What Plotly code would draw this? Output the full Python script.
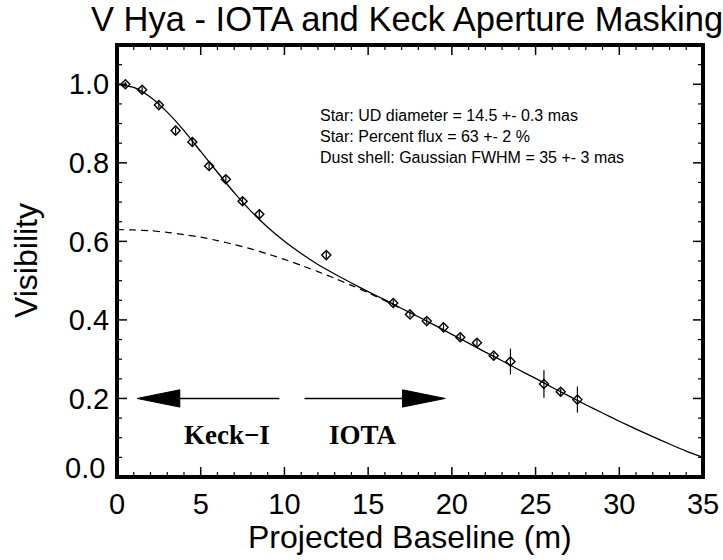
import plotly.graph_objects as go

# Measured visibilities (Keck aperture masking + IOTA)
baseline = [0.5, 1.5, 2.5, 3.5, 4.5, 5.5, 6.5, 7.5, 8.5, 12.5,
            16.5, 17.5, 18.5, 19.5, 20.5, 21.5, 22.5, 23.5, 25.5, 26.5, 27.5]
visibility = [1.000, 0.986, 0.947, 0.882, 0.853, 0.792, 0.758, 0.702, 0.669, 0.565,
              0.443, 0.414, 0.397, 0.381, 0.356, 0.342, 0.309, 0.294, 0.237, 0.217, 0.197]
vis_err = [0.006, 0.008, 0.008, 0.008, 0.010, 0.010, 0.010, 0.010, 0.012, 0.008,
           0.008, 0.008, 0.008, 0.008, 0.008, 0.008, 0.008, 0.033, 0.035, 0.008, 0.033]

# Best-fit model: star (uniform disk) + Gaussian dust shell
model_b = list(range(0, 36))
model_vis = [1.000, 0.992, 0.967, 0.929, 0.882, 0.829, 0.776, 0.724, 0.677, 0.636,
             0.600, 0.569, 0.541, 0.517, 0.494, 0.472, 0.451, 0.429, 0.408, 0.386,
             0.363, 0.341, 0.318, 0.296, 0.273, 0.251, 0.228, 0.206, 0.184, 0.163,
             0.142, 0.122, 0.103, 0.084, 0.066, 0.050]

# Stellar component alone
star_b = list(range(0, 18))
star_vis = [0.630, 0.629, 0.627, 0.623, 0.617, 0.611, 0.602, 0.592, 0.581, 0.568,
            0.554, 0.539, 0.523, 0.506, 0.488, 0.469, 0.449, 0.428]

# Baseline coverage arrows (tail, tip) at visibility 0.2
arrow_level = 0.2
keck_span = [9.7, 1.2]
iota_span = [11.2, 19.6]

# Axis ranges and ticks
x_range = [0, 35]
y_range = [0, 1.1]
x_major = [0, 5, 10, 15, 20, 25, 30, 35]
x_minor = [v for v in range(0, 36) if v % 5 != 0]
y_major = [0.0, 0.2, 0.4, 0.6, 0.8, 1.0]
y_minor = [round(0.05 * i, 2) for i in range(0, 23) if i % 4 != 0]
ytick_vals = [0.2, 0.4, 0.6, 0.8, 1.0]
ytick_text = ["0.2", "0.4", "0.6", "0.8", "1.0"]

SANS = "Liberation Sans, Arial, Helvetica, sans-serif"
SERIF = "Liberation Serif, Times New Roman, serif"

W, H = 723, 560
M = dict(l=117, r=20, t=45, b=83)
px_x = (x_range[1] - x_range[0]) / (W - M["l"] - M["r"])   # data units per pixel
px_y = (y_range[1] - y_range[0]) / (H - M["t"] - M["b"])

fig = go.Figure()

# Plot frame, inset by one pixel so the full stroke stays inside the plot area
x0, x1 = x_range
y0, y1 = y_range
fx0, fx1 = x0 + px_x, x1 - px_x
fy0, fy1 = y0 + px_y, y1 - px_y
fig.add_trace(go.Scatter(
    x=[fx0, fx1, fx1, fx0, fx0], y=[fy0, fy0, fy1, fy1, fy0], mode="lines",
    line=dict(color="black", width=2), hoverinfo="skip"))

# Inward ticks on all four sides
for xs, ys, length, width in ((x_major, y_major, 10, 1.5), (x_minor, y_minor, 5, 1.2)):
    tx, ty = [], []
    for v in xs:
        h = length * px_y
        tx += [v, v, None, v, v, None]
        ty += [y0, y0 + h, None, y1, y1 - h, None]
    for v in ys:
        w = length * px_x
        tx += [x0, x0 + w, None, x1, x1 - w, None]
        ty += [v, v, None, v, v, None]
    fig.add_trace(go.Scatter(x=tx, y=ty, mode="lines",
                             line=dict(color="black", width=width), hoverinfo="skip"))

fig.add_trace(go.Scatter(
    x=star_b, y=star_vis, mode="lines",
    line=dict(color="black", width=1.2, dash="7px,5px", shape="spline", smoothing=0.6),
    hoverinfo="skip"))

fig.add_trace(go.Scatter(
    x=model_b, y=model_vis, mode="lines",
    line=dict(color="black", width=1.3, shape="spline", smoothing=0.6),
    hoverinfo="skip"))

fig.add_trace(go.Scatter(
    x=baseline, y=visibility, mode="markers",
    marker=dict(symbol="diamond-open", size=7, color="black", line=dict(width=1.4, color="black")),
    error_y=dict(type="data", array=vis_err, width=0, thickness=1.2, color="black")))

# Arrows: shaft line plus long filled triangular head
head_len = 2.55
head_half = 0.022
for tail, tip in (keck_span, iota_span):
    s = 1 if tip > tail else -1
    base = tip - s * head_len
    fig.add_trace(go.Scatter(
        x=[tail, base], y=[arrow_level, arrow_level], mode="lines",
        line=dict(color="black", width=1.5), hoverinfo="skip"))
    fig.add_trace(go.Scatter(
        x=[base, tip, base, base],
        y=[arrow_level - head_half, arrow_level, arrow_level + head_half, arrow_level - head_half],
        mode="lines", fill="toself", fillcolor="black",
        line=dict(color="black", width=1), hoverinfo="skip"))

fig.add_annotation(x=6.57, y=0.108, xref="x", yref="y", text="<b>Keck−I</b>",
                   showarrow=False, font=dict(family=SERIF, size=27, color="black"))
fig.add_annotation(x=14.72, y=0.108, xref="x", yref="y", text="<b>IOTA</b>",
                   showarrow=False, font=dict(family=SERIF, size=27, color="black"))

fig.add_annotation(
    x=12.0, y=0.866, xref="x", yref="y", xanchor="left", yanchor="middle", align="left",
    text="Star: UD diameter = 14.5 +- 0.3 mas<br>Star: Percent flux = 63 +- 2 %<br>"
         "Dust shell: Gaussian FWHM = 35 +- 3 mas",
    showarrow=False, font=dict(family=SANS, size=16, color="black"))

# Lowest y tick label sits slightly above its tick
fig.add_annotation(x=0, y=0.0, xref="paper", yref="y", xanchor="right", yanchor="middle",
                   xshift=-10, yshift=9, text="0.0", showarrow=False,
                   font=dict(family=SANS, size=29, color="black"))

# Title and axis titles
fig.add_annotation(x=0.495, y=1, xref="paper", yref="paper", xanchor="center", yanchor="bottom",
                   yshift=5, text="V Hya - IOTA and Keck Aperture Masking", showarrow=False,
                   font=dict(family=SANS, size=34.5, color="black"))
fig.add_annotation(x=0.5, y=0, xref="paper", yref="paper", xanchor="center", yanchor="top",
                   yshift=-40, text="Projected Baseline (m)", showarrow=False,
                   font=dict(family=SANS, size=32, color="black"))
fig.add_annotation(x=0, y=0.5, xref="paper", yref="paper", xanchor="center", yanchor="middle",
                   xshift=-91, text="Visibility", textangle=-90, showarrow=False,
                   font=dict(family=SANS, size=32, color="black"))

fig.update_xaxes(
    range=x_range, tickmode="array", tickvals=x_major, ticktext=[str(v) for v in x_major],
    showgrid=False, zeroline=False, showline=True, linecolor="black", linewidth=2,
    mirror=True, ticks="",
    tickfont=dict(family=SANS, size=29, color="black"))
fig.update_yaxes(
    range=y_range, tickmode="array", tickvals=ytick_vals, ticktext=ytick_text,
    showgrid=False, zeroline=False, showline=True, linecolor="black", linewidth=2,
    mirror=True, ticks="",
    tickfont=dict(family=SANS, size=29, color="black"))

fig.update_layout(
    template="none",
    width=W, height=H,
    margin=M,
    paper_bgcolor="white", plot_bgcolor="white",
    showlegend=False,
)

fig.write_html("out.html")
